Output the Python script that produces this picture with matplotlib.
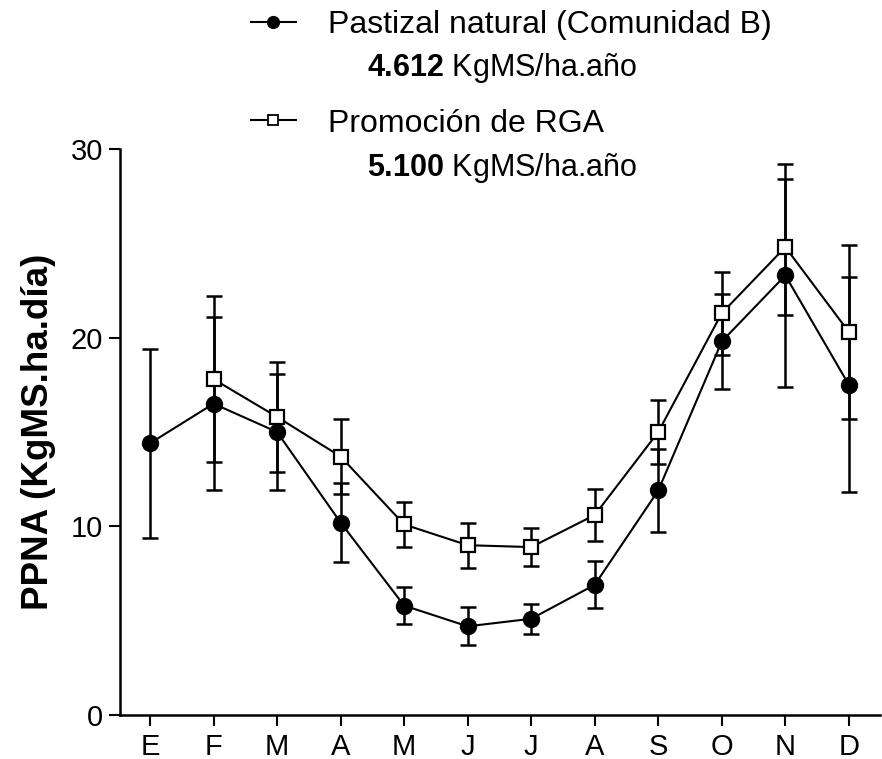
import numpy as np
import matplotlib
matplotlib.use("Agg")
import matplotlib.pyplot as plt

plt.rcParams['font.family'] = ['Liberation Sans', 'DejaVu Sans']
plt.rcParams['mathtext.fontset'] = 'custom'
plt.rcParams['mathtext.rm'] = 'Liberation Sans'
plt.rcParams['mathtext.bf'] = 'Liberation Sans:bold'

# data
months = ['E', 'F', 'M', 'A', 'M', 'J', 'J', 'A', 'S', 'O', 'N', 'D']
natural = [14.4, 16.5, 15.0, 10.2, 5.8, 4.7, 5.1, 6.9, 11.9, 19.8, 23.3, 17.5]
natural_err = [5.0, 4.6, 3.1, 2.1, 1.0, 1.0, 0.8, 1.25, 2.2, 2.5, 5.9, 5.7]
rga = [np.nan, 17.8, 15.8, 13.7, 10.1, 9.0, 8.9, 10.6, 15.0, 21.3, 24.8, 20.3]
rga_err = [np.nan, 4.4, 2.9, 2.0, 1.2, 1.2, 1.0, 1.4, 1.7, 2.2, 3.6, 4.6]

label_natural = 'Pastizal natural (Comunidad B)'
label_rga = 'Promoción de RGA'
total_natural = '4.612'
total_rga = '5.100'

x = np.arange(len(months))

fig = plt.figure(figsize=(8.82, 7.59), dpi=100)
ax = fig.add_axes([120 / 882, 44 / 759, 760 / 882, 566 / 759])

ax.errorbar(x, rga, yerr=rga_err, fmt='-', color='black', lw=1.5,
            elinewidth=1.8, capsize=5.5, capthick=1.8, zorder=2)
ax.errorbar(x, natural, yerr=natural_err, fmt='-', color='black', lw=1.5,
            elinewidth=1.8, capsize=5.5, capthick=1.8, zorder=2)
ax.plot(x, rga, 's', ms=10, mfc='white', mec='black', mew=1.6, zorder=3)
ax.plot(x, natural, 'o', ms=11.5, color='black', zorder=3)

ax.set_xlim(-0.472, 11.49)
ax.set_ylim(0, 30)
ax.set_yticks([0, 10, 20, 30])
ax.set_xticks(x)
ax.set_xticklabels(months)
ax.spines['top'].set_visible(False)
ax.spines['right'].set_visible(False)
ax.spines['left'].set_linewidth(1.8)
ax.spines['bottom'].set_linewidth(1.8)
ax.tick_params(axis='both', length=8, width=1.5, labelsize=21)
ax.tick_params(axis='y', pad=4)
ax.tick_params(axis='x', pad=5)
ax.set_ylabel('PPNA (KgMS.ha.día)', fontsize=26.5, fontweight='bold', labelpad=11)

# legend
h1, = ax.plot([], [], '-o', color='black', ms=8.5, lw=1.5)
h2, = ax.plot([], [], '-s', color='black', mfc='white', ms=7.5, mew=1.3, lw=1.5)
leg = fig.legend([h1, h2], [label_natural, label_rga], loc='upper left',
                 bbox_to_anchor=(251 / 882, 1 - 10 / 759), frameon=False,
                 fontsize=23, handlelength=1.4, handletextpad=1.0,
                 labelspacing=2.15, borderpad=0, borderaxespad=0)

fig.text(367 / 882, 1 - 68 / 759, r'$\mathbf{' + total_natural + '}$ KgMS/ha.año',
         fontsize=22, va='center', ha='left')
fig.text(367 / 882, 1 - 168 / 759, r'$\mathbf{' + total_rga + '}$ KgMS/ha.año',
         fontsize=22, va='center', ha='left')

fig.savefig('out.png', dpi=100)
